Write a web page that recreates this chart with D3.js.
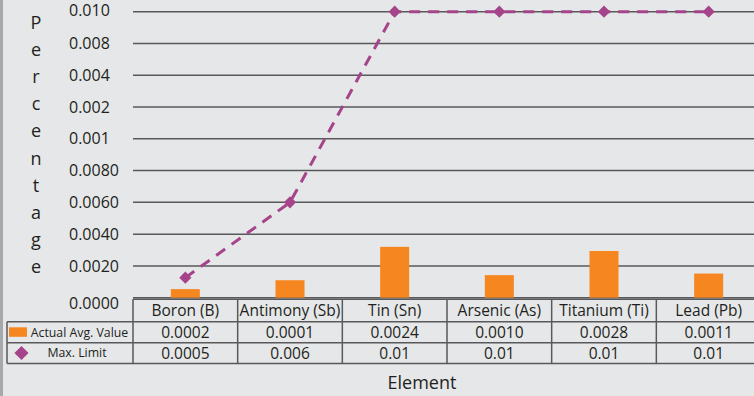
<!DOCTYPE html>
<html>
<head>
<meta charset="utf-8">
<script src="https://cdn.jsdelivr.net/npm/d3@7"></script>
<style>
  html, body { margin: 0; padding: 0; background: #e6e7e9; }
  svg { display: block; font-family: "Open Sans", sans-serif; }
</style>
</head>
<body>
<svg id="chart" width="754" height="396"></svg>
<script>
// ---- data ----
const categories = ["Boron (B)", "Antimony (Sb)", "Tin (Sn)", "Arsenic (As)", "Titanium (Ti)", "Lead (Pb)"];
const actualLabels = ["0.0002", "0.0001", "0.0024", "0.0010", "0.0028", "0.0011"];
const maxLabels = ["0.0005", "0.006", "0.01", "0.01", "0.01", "0.01"];
// tick labels exactly as printed on the (non-monotonic) axis, bottom to top
const yTickLabels = ["0.0000", "0.0020", "0.0040", "0.0060", "0.0080", "0.001", "0.002", "0.004", "0.008", "0.010"];
// heights as drawn, in axis-step units (one step = one gridline)
const actualPlotted = [0.27, 0.55, 1.6, 0.71, 1.47, 0.76];
const maxPlotted = [0.63, 3, 9, 9, 9, 9];
const seriesNames = ["Actual Avg. Value", "Max. Limit"];
const axisTitleY = "Percentage";
const axisTitleX = "Element";

// ---- styles ----
const orange = "#f6861f", purple = "#a5448a", gridC = "#58595b", textC = "#231f20";

const svg = d3.select("#chart");
svg.append("rect").attr("width", 754).attr("height", 396).attr("fill", "#e6e7e9");
svg.append("rect").attr("x", 0).attr("y", 0).attr("width", 3).attr("height", 396).attr("fill", "#a7a8aa");

const plotLeft = 133, plotRight = 761;
const x = d3.scaleBand().domain(categories).range([plotLeft, plotRight]).padding(0);
const y = d3.scaleLinear().domain([0, yTickLabels.length - 1]).range([297.7, 11.7]);

// gridlines
svg.append("g").selectAll("line").data(d3.range(yTickLabels.length)).join("line")
  .attr("x1", plotLeft).attr("x2", plotRight)
  .attr("y1", d => y(d)).attr("y2", d => y(d))
  .attr("stroke", gridC).attr("stroke-width", 1.5);

// y tick labels
svg.append("g").selectAll("text").data(yTickLabels).join("text")
  .attr("x", 69)
  .attr("y", (d, i) => y(i))
  .attr("dy", (d, i) => i === 0 ? "0.7em" : (i === yTickLabels.length - 1 ? "0.25em" : "0.35em"))
  .attr("font-size", 16).attr("fill", textC)
  .text(d => d);

// y title stacked letters
svg.append("g").selectAll("text").data(axisTitleY.split("")).join("text")
  .attr("x", 36).attr("y", (d, i) => 29 + i * 27.1)
  .attr("text-anchor", "middle").attr("font-size", 18).attr("fill", textC)
  .text(d => d);

// bars
const barW = 29;
svg.append("g").selectAll("rect").data(categories).join("rect")
  .attr("x", d => x(d) + x.bandwidth() / 2 - barW / 2)
  .attr("width", barW)
  .attr("y", (d, i) => y(actualPlotted[i]))
  .attr("height", (d, i) => y(0) - y(actualPlotted[i]))
  .attr("fill", orange);

// line
const line = d3.line()
  .x((d, i) => x(categories[i]) + x.bandwidth() / 2)
  .y(d => y(d));
svg.append("path").datum(maxPlotted)
  .attr("d", line).attr("fill", "none")
  .attr("stroke", purple).attr("stroke-width", 3)
  .attr("stroke-dasharray", "11,8");

const diamond = d3.symbol().type(d3.symbolSquare).size(74);
svg.append("g").selectAll("path").data(maxPlotted).join("path")
  .attr("d", diamond)
  .attr("transform", (d, i) => `translate(${x(categories[i]) + x.bandwidth() / 2},${y(d)}) rotate(45)`)
  .attr("fill", purple);

// ---- data table ----
const tTop = y(0) + 1.5, r1 = 321.7, r2 = 342.7, r3 = 363.4, tLeft = 7;
const tg = svg.append("g").attr("stroke", gridC).attr("stroke-width", 1.5);
tg.append("line").attr("x1", plotLeft).attr("x2", plotRight).attr("y1", tTop).attr("y2", tTop);
[r1, r2, r3].forEach(yy => tg.append("line").attr("x1", tLeft).attr("x2", plotRight).attr("y1", yy).attr("y2", yy));
tg.append("line").attr("x1", tLeft).attr("x2", tLeft).attr("y1", r1).attr("y2", r3);
categories.forEach(c => tg.append("line").attr("x1", x(c)).attr("x2", x(c)).attr("y1", tTop).attr("y2", r3));

const cx = c => x(c) + x.bandwidth() / 2;
svg.append("g").selectAll("text").data(categories).join("text")
  .attr("x", cx).attr("y", 316).attr("text-anchor", "middle")
  .attr("font-size", 15.5).attr("fill", textC).text(d => d);
svg.append("g").selectAll("text").data(actualLabels).join("text")
  .attr("x", (d, i) => cx(categories[i])).attr("y", 338).attr("text-anchor", "middle")
  .attr("font-size", 15.5).attr("fill", textC).text(d => d);
svg.append("g").selectAll("text").data(maxLabels).join("text")
  .attr("x", (d, i) => cx(categories[i])).attr("y", 358.5).attr("text-anchor", "middle")
  .attr("font-size", 15.5).attr("fill", textC).text(d => d);

// row headers / legend keys
svg.append("rect").attr("x", 9).attr("y", 327.3).attr("width", 18).attr("height", 9.5).attr("fill", orange);
svg.append("text").attr("x", 79.5).attr("y", 336.5).attr("text-anchor", "middle")
  .attr("font-size", 12.3).attr("fill", textC).text(seriesNames[0]);
svg.append("path").attr("d", d3.symbol().type(d3.symbolSquare).size(100))
  .attr("transform", "translate(21.5,353) rotate(45)").attr("fill", purple);
svg.append("text").attr("x", 77).attr("y", 357).attr("text-anchor", "middle")
  .attr("font-size", 12.3).attr("fill", textC).text(seriesNames[1]);

// x title
svg.append("text").attr("x", 422).attr("y", 389).attr("text-anchor", "middle")
  .attr("font-size", 18).attr("fill", textC).text(axisTitleX);
</script>
</body>
</html>
